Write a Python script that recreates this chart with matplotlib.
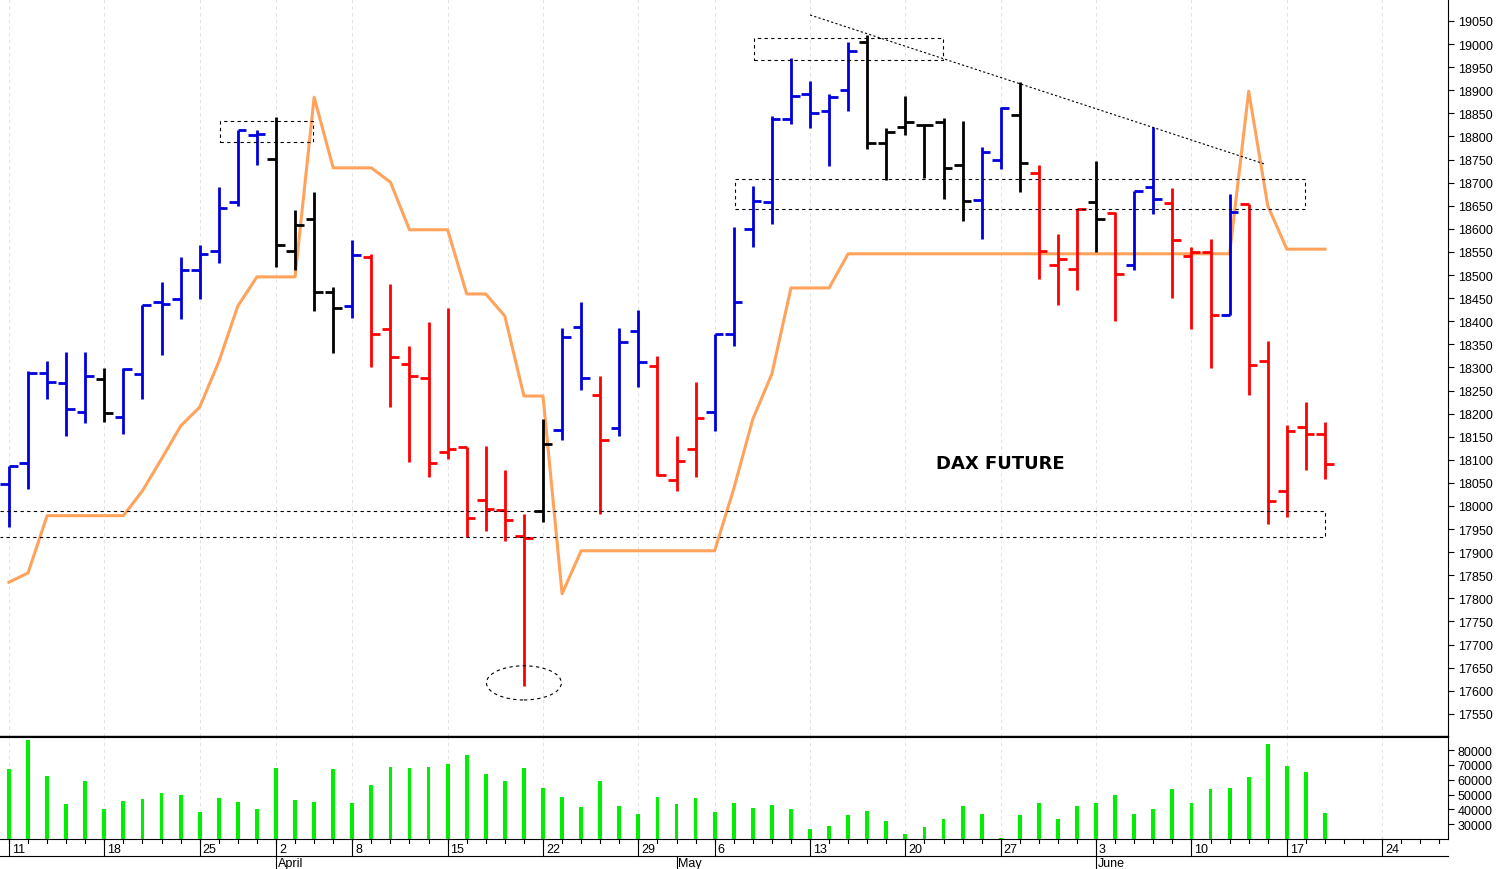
import matplotlib
matplotlib.use("Agg")
import matplotlib.pyplot as plt
from matplotlib.patches import Rectangle, Ellipse
import matplotlib.transforms as mtransforms
import numpy as np

plt.rcParams['font.family'] = ['Liberation Sans', 'DejaVu Sans']

# daily OHLC, DAX future, 11 Mar - 19 Jun
opens = [18048, 18093, 18288, 18266, 18204, 18275, 18193, 18286, 18442, 18448,
         18511, 18552, 18658, 18803, 18751, 18552, 18621, 18463, 18433, 18539,
         18383, 18308, 18277, 18117, 18128, 18013, 17992, 17935, 17989, 18165,
         18388, 18240, 18169, 18379, 18303, 18056, 18124, 18204, 18372, 18600,
         18658, 18838, 18892, 18855, 18901, 19005, 18786, 18821, 18825, 18831,
         18738, 18662, 18749, 18846, 18721, 18522, 18513, 18658, 18634, 18522,
         18691, 18656, 18541, 18550, 18414, 18654, 18314, 18033, 18171, 18156]
highs = [18087, 18292, 18314, 18333, 18333, 18299, 18299, 18435, 18485, 18539,
         18565, 18691, 18814, 18814, 18842, 18641, 18680, 18474, 18576, 18546,
         18481, 18346, 18398, 18429, 18128, 18130, 18078, 17983, 18188, 18385,
         18442, 18282, 18385, 18424, 18325, 18152, 18269, 18372, 18604, 18693,
         18844, 18970, 18920, 18892, 19005, 19020, 18818, 18888, 18827, 18840,
         18833, 18777, 18864, 18918, 18738, 18589, 18643, 18747, 18637, 18682,
         18820, 18688, 18561, 18578, 18676, 18654, 18357, 18176, 18225, 18182]
lows = [17955, 18037, 18232, 18152, 18180, 18182, 18156, 18232, 18327, 18405,
        18448, 18526, 18650, 18738, 18517, 18511, 18422, 18331, 18407, 18301,
        18214, 18095, 18063, 18102, 17933, 17946, 17924, 17611, 17966, 18143,
        18251, 17983, 18152, 18258, 18065, 18033, 18063, 18162, 18346, 18561,
        18611, 18827, 18818, 18736, 18855, 18773, 18706, 18803, 18710, 18665,
        18617, 18578, 18730, 18680, 18491, 18435, 18468, 18550, 18401, 18511,
        18632, 18450, 18383, 18299, 18414, 18240, 17961, 17976, 18078, 18059]
closes = [18087, 18288, 18269, 18210, 18282, 18201, 18297, 18435, 18437, 18511,
          18546, 18645, 18814, 18805, 18565, 18608, 18463, 18429, 18543, 18372,
          18323, 18282, 18093, 18124, 17974, 17994, 17970, 17931, 18134, 18366,
          18277, 18143, 18355, 18312, 18067, 18098, 18191, 18372, 18442, 18660,
          18838, 18888, 18851, 18885, 18985, 18786, 18810, 18831, 18825, 18732,
          18660, 18766, 18862, 18743, 18552, 18535, 18643, 18621, 18502, 18682,
          18665, 18576, 18550, 18414, 18637, 18305, 18011, 18162, 18156, 18091]
# b = blue, k = black, r = red
bar_colors = list("bbbbbkbbbbbbbbkkkkbrrrrrrrrrkbbrbbrrrbbbbbbbbkkkkkkbbkrrrkrbbrrrbrrrrr")

stop_line = [17835, 17855, 17979, 17979, 17979, 17979, 17979, 18033, 18102, 18173,
             18214, 18312, 18433, 18496, 18496, 18496, 18885, 18732, 18732, 18732,
             18701, 18598, 18598, 18598, 18459, 18459, 18411, 18238, 18238, 17810,
             17903, 17903, 17903, 17903, 17903, 17903, 17903, 17903, 18037, 18188,
             18286, 18472, 18472, 18472, 18546, 18546, 18546, 18546, 18546, 18546,
             18546, 18546, 18546, 18546, 18546, 18546, 18546, 18546, 18546, 18546,
             18546, 18546, 18546, 18546, 18546, 18898, 18650, 18556, 18556, 18556]

volume = [67000, 86700, 62300, 43700, 59500, 40500, 45600, 47200, 51400, 49500,
          38100, 47700, 44900, 40000, 68100, 46300, 44900, 67000, 44400, 56300,
          68400, 67900, 68400, 70900, 76500, 64000, 59500, 67900, 54200, 48600,
          41600, 59500, 42300, 36700, 48400, 43500, 47900, 38100, 44200, 40900,
          43000, 40200, 26500, 28800, 36000, 38600, 32100, 23500, 28100, 33500,
          42300, 36700, 20700, 36000, 44400, 33700, 42300, 44400, 50000, 36700,
          40200, 53500, 44400, 53500, 54200, 61900, 84000, 69100, 65100, 37400]

week_idx = [0, 5, 10, 14, 18, 23, 28, 33, 37, 42, 47, 52, 57, 62, 67, 72]
week_labels = ["11", "18", "25", "2", "8", "15", "22", "29", "6", "13", "20", "27", "3", "10", "17", "24"]
month_idx = [14, 35, 57]
month_labels = ["April", "May", "June"]

cmap = {"b": "#0000DD", "k": "black", "r": "#FF0000"}
n = len(opens)
x = np.arange(n)
xmin, xmax = -0.47, 75.45

fig = plt.figure(figsize=(14.97, 8.7), dpi=100)
W, H = 1497, 870
axp = fig.add_axes([0, (870 - 737) / H, 1448 / W, 737 / H])
axv = fig.add_axes([0, (870 - 840) / H, 1448 / W, 102 / H])

# price bars
for i in range(n):
    c = cmap[bar_colors[i]]
    axp.plot([i, i], [lows[i], highs[i]], color=c, lw=2.0, solid_capstyle='butt', zorder=4)
    axp.plot([i - 0.45, i], [opens[i], opens[i]], color=c, lw=2.0, solid_capstyle='butt', zorder=4)
    axp.plot([i, i + 0.45], [closes[i], closes[i]], color=c, lw=2.0, solid_capstyle='butt', zorder=4)

axp.plot(x, stop_line, color='#FFA35C', lw=2.2, zorder=3)

# annotations
dash = dict(fill=False, ls=(0, (3, 3)), lw=0.8, color='black', zorder=5)
axp.add_patch(Rectangle((11.06, 18787), 4.9, 46, **dash))
axp.add_patch(Rectangle((39.07, 18966), 9.9, 47, **dash))
axp.add_patch(Rectangle((38.07, 18643), 29.9, 65, **dash))
axp.plot([xmin, 69.0, 69.0, xmin], [17990, 17990, 17933, 17933], color='black', lw=0.8, ls=(0, (3, 3)), zorder=5)
axp.add_patch(Ellipse((27.0, 17617), 3.93, 74, fill=False, ls=(0, (3, 3)), lw=0.8, color='black', zorder=5))
axp.plot([42.0, 65.86], [19063, 18740], color='black', lw=0.8, ls=(0, (2, 2)), zorder=5)
axp.text(51.97, 18093, "DAX FUTURE", ha='center', va='center', fontsize=13, fontweight='bold',
         family=['DejaVu Sans'])

# volume
axv.bar(x, volume, width=0.2, color='#00EE00', bottom=0, zorder=3)

for ax in (axp, axv):
    ax.set_xlim(xmin, xmax)
    for w in week_idx:
        ax.axvline(w, color='#DDDDDD', lw=0.6, ls=(0, (4, 4)), zorder=0)
    ax.yaxis.tick_right()
    ax.tick_params(axis='y', labelsize=9, length=4, pad=3)
    ax.set_xticks([])
    for s in ('left', 'top', 'bottom'):
        ax.spines[s].set_visible(False)

axp.set_ylim(17502, 19097.6)
axp.set_yticks(np.arange(17550, 19051, 50))
axp.spines['bottom'].set_visible(True)
axp.spines['bottom'].set_linewidth(1.0)

axv.set_ylim(20000, 88900)
axv.set_yticks(np.arange(30000, 80001, 10000))
axv.spines['top'].set_visible(True)
axv.spines['bottom'].set_visible(True)

# date axis below volume
trans = mtransforms.blended_transform_factory(axv.transData, fig.transFigure)
y_axis = 30 / H
for i in range(int(xmax) + 1):
    fig.add_artist(plt.Line2D([i, i], [y_axis, y_axis - 4 / H], transform=trans, color='black', lw=0.8))
for w, lab in zip(week_idx, week_labels):
    fig.add_artist(plt.Line2D([w, w], [y_axis, 13 / H], transform=trans, color='black', lw=0.8))
    fig.text(w + 0.15, 20 / H, lab, transform=trans, fontsize=9, ha='left', va='center')
fig.add_artist(plt.Line2D([0, 1448 / W], [13 / H, 13 / H], color='black', lw=0.8))
for m, lab in zip(month_idx, month_labels):
    fig.add_artist(plt.Line2D([m, m], [13 / H, 0], transform=trans, color='black', lw=0.8))
    fig.text(m + 0.1, 6 / H, lab, transform=trans, fontsize=9, ha='left', va='center')

fig.savefig("out.png", dpi=100, facecolor='white')
